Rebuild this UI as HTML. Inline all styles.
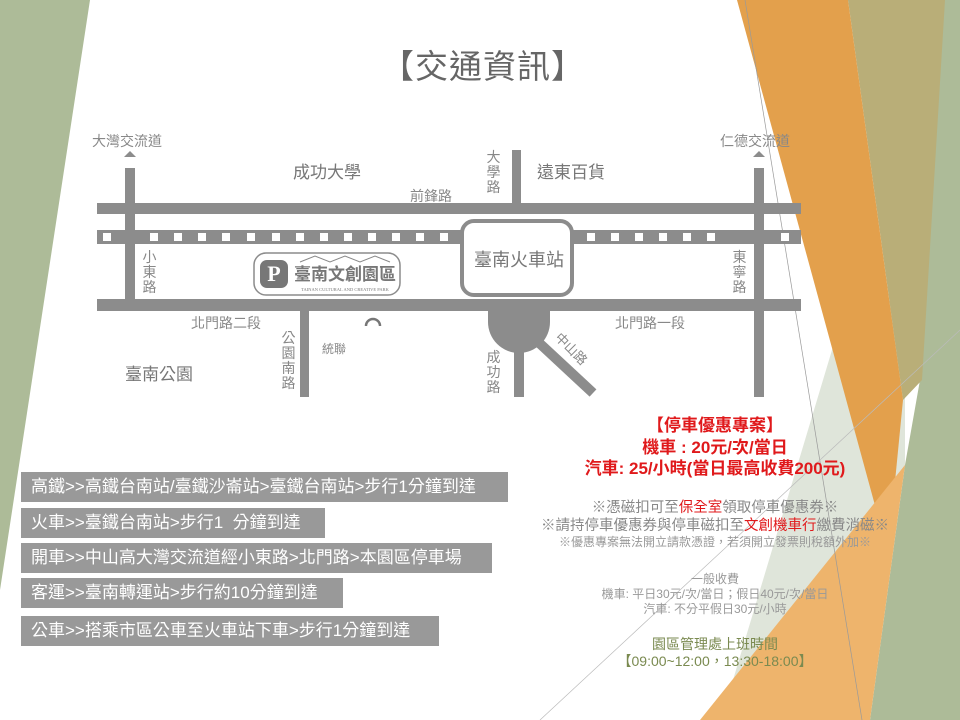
<!DOCTYPE html>
<html><head><meta charset="utf-8"><style>
html,body{margin:0;padding:0;}
body{width:960px;height:720px;position:relative;overflow:hidden;background:#fff;font-family:"Liberation Sans","Noto Sans CJK TC",sans-serif;}
.t{position:absolute;white-space:nowrap;}
.bar{position:absolute;left:21px;height:30px;background:#999;color:#fff;font-size:17px;line-height:30px;padding-left:10px;box-sizing:border-box;white-space:nowrap;}
.v{position:absolute;width:15px;font-size:14px;line-height:15px;color:#888;text-align:center;}
.c{position:absolute;left:515px;width:400px;text-align:center;white-space:nowrap;}
</style></head><body>
<svg width="960" height="720" style="position:absolute;left:0;top:0">
<polygon points="0,0 90,0 0,590" fill="#adbb98"/>
<polygon points="835,340 905,290 905,470 730,690" fill="#dfe5da"/>
<polygon points="848,0 960,0 960,720 870,720 905,465 920,380" fill="#adbb98"/>
<polygon points="848,0 945,0 922,380 903,400" fill="#b9ae78"/>
<polygon points="737,0 848,0 903,400 888,553" fill="#e3a04c"/>
<polygon points="700,720 905,465 870,720" fill="#eeb46c"/>
<line x1="745" y1="0" x2="862" y2="720" stroke="#999" stroke-width="0.7"/>
<line x1="540" y1="720" x2="960" y2="330" stroke="#bbb" stroke-width="0.7"/>
<g fill="#8c8c8c">
<rect x="97" y="203" width="704" height="11"/>
<rect x="97" y="230" width="704" height="14"/>
<rect x="97" y="299" width="704" height="12"/>
<rect x="125" y="168" width="10" height="140"/>
<rect x="754" y="168" width="10" height="229"/>
<polygon points="124,157 136,157 130,151"/>
<polygon points="753,157 765,157 759,151"/>
<rect x="512" y="150" width="9" height="60"/>
<rect x="300" y="305" width="9" height="92"/>
<rect x="514" y="340" width="10" height="57"/>
<path d="M488,305 L550,305 L550,322 A31,31 0 0 1 488,322 Z"/>
<line x1="536" y1="340" x2="593" y2="393" stroke="#8c8c8c" stroke-width="10"/>
</g>
<g fill="#fff">
<rect x="103" y="233" width="8" height="8"/>
<rect x="150" y="233" width="8" height="8"/><rect x="174" y="233" width="8" height="8"/><rect x="198" y="233" width="8" height="8"/><rect x="222" y="233" width="8" height="8"/><rect x="247" y="233" width="8" height="8"/><rect x="272" y="233" width="8" height="8"/><rect x="296" y="233" width="8" height="8"/><rect x="320" y="233" width="8" height="8"/><rect x="344" y="233" width="8" height="8"/><rect x="368" y="233" width="8" height="8"/><rect x="392" y="233" width="8" height="8"/><rect x="416" y="233" width="8" height="8"/><rect x="440" y="233" width="8" height="8"/>
<rect x="587" y="233" width="8" height="8"/><rect x="611" y="233" width="8" height="8"/><rect x="635" y="233" width="8" height="8"/><rect x="659" y="233" width="8" height="8"/><rect x="683" y="233" width="8" height="8"/><rect x="707" y="233" width="8" height="8"/><rect x="781" y="233" width="8" height="8"/>
</g>
<rect x="462" y="221" width="110" height="74" rx="12" fill="#fff" stroke="#8c8c8c" stroke-width="4"/>
<rect x="254" y="253" width="146" height="42" rx="12" fill="#fff" stroke="#8c8c8c" stroke-width="1.5"/>
<rect x="260" y="260" width="28" height="28" rx="7" fill="#777"/>
<text x="274" y="281" font-family="Liberation Serif" font-weight="bold" font-size="22" fill="#fff" text-anchor="middle">P</text>
<path d="M300,262 L315,256 L330,262 L345,256 L360,262 L375,256 L390,262" fill="none" stroke="#888" stroke-width="1"/>
<text x="345" y="280" font-size="17" font-weight="bold" fill="#777" text-anchor="middle" font-family="Noto Sans CJK TC">臺南文創園區</text>
<text x="345" y="291" font-size="4.5" fill="#777" text-anchor="middle" font-family="Liberation Serif">TAINAN CULTURAL AND CREATIVE PARK</text>
<path d="M366,326 A7,7 0 0 1 380,326" fill="none" stroke="#777" stroke-width="2.5"/>
<text x="568" y="352" font-size="13" fill="#888" transform="rotate(45 568 352)" text-anchor="middle" font-family="Noto Sans CJK TC">中山路</text>
</svg>
<div class="t" style="left:381px;top:40px;font-size:33px;letter-spacing:1px;color:#666;">【交通資訊】</div>
<div class="t" style="left:92px;top:131px;font-size:14px;color:#888;">大灣交流道</div>
<div class="t" style="left:720px;top:131px;font-size:14px;color:#888;">仁德交流道</div>
<div class="t" style="left:293px;top:158px;font-size:17px;color:#777;">成功大學</div>
<div class="t" style="left:537px;top:158px;font-size:17px;color:#777;">遠東百貨</div>
<div class="t" style="left:410px;top:186px;font-size:14px;color:#888;">前鋒路</div>
<div class="v" style="left:486px;top:150px;">大學路</div>
<div class="v" style="left:142px;top:250px;">小東路</div>
<div class="v" style="left:732px;top:250px;">東寧路</div>
<div class="v" style="left:281px;top:331px;">公園南路</div>
<div class="v" style="left:486px;top:350px;">成功路</div>
<div class="t" style="left:474px;top:246px;font-size:18px;color:#777;">臺南火車站</div>
<div class="t" style="left:191px;top:313px;font-size:14px;color:#888;">北門路二段</div>
<div class="t" style="left:615px;top:313px;font-size:14px;color:#888;">北門路一段</div>
<div class="t" style="left:322px;top:340px;font-size:12px;color:#888;">統聯</div>
<div class="t" style="left:125px;top:360px;font-size:17px;color:#777;">臺南公園</div>

<div class="bar" style="top:472px;width:487px;">高鐵&gt;&gt;高鐵台南站/臺鐵沙崙站&gt;臺鐵台南站&gt;步行1分鐘到達</div>
<div class="bar" style="top:508px;width:304px;">火車&gt;&gt;臺鐵台南站&gt;步行1&nbsp; 分鐘到達</div>
<div class="bar" style="top:543px;width:471px;">開車&gt;&gt;中山高大灣交流道經小東路&gt;北門路&gt;本園區停車場</div>
<div class="bar" style="top:578px;width:322px;">客運&gt;&gt;臺南轉運站&gt;步行約10分鐘到達</div>
<div class="bar" style="top:616px;width:418px;">公車&gt;&gt;搭乘市區公車至火車站下車&gt;步行1分鐘到達</div>

<div class="c" style="top:411px;font-size:17px;font-weight:bold;color:#e0191b;">【停車優惠專案】</div>
<div class="c" style="top:433px;font-size:17px;font-weight:bold;color:#e0191b;">機車 : 20元/次/當日</div>
<div class="c" style="top:454px;font-size:17px;font-weight:bold;color:#e0191b;">汽車: 25/小時(當日最高收費200元)</div>
<div class="c" style="top:496px;font-size:14.5px;color:#888;">※憑磁扣可至<span style="color:#e0191b">保全室</span>領取停車優惠券※</div>
<div class="c" style="top:514px;font-size:14.5px;color:#888;">※請持停車優惠券與停車磁扣至<span style="color:#e0191b">文創機車行</span>繳費消磁※</div>
<div class="c" style="top:533px;font-size:12px;color:#999;">※優惠專案無法開立請款憑證，若須開立發票則稅額外加※</div>
<div class="c" style="top:570px;font-size:12px;color:#999;">一般收費</div>
<div class="c" style="top:585px;font-size:12px;color:#999;">機車: 平日30元/次/當日；假日40元/次/當日</div>
<div class="c" style="top:600px;font-size:12px;color:#999;">汽車: 不分平假日30元/小時</div>
<div class="c" style="top:634px;font-size:14px;color:#7a8a50;">園區管理處上班時間</div>
<div class="c" style="top:651px;font-size:14px;color:#7a8a50;">【09:00~12:00，13:30-18:00】</div>
</body></html>
